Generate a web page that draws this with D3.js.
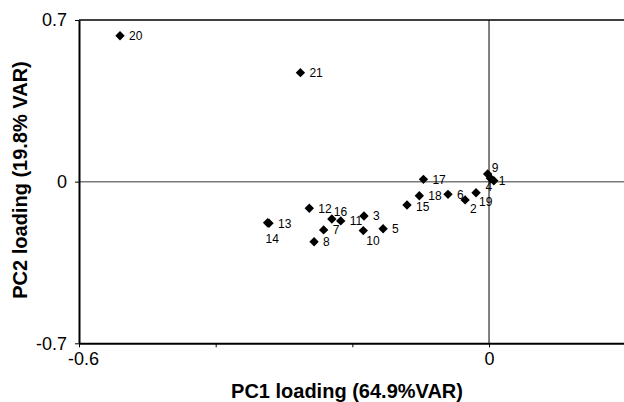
<!DOCTYPE html>
<html>
<head>
<meta charset="utf-8">
<script src="https://cdn.jsdelivr.net/npm/d3@7"></script>
<style>
	html, body { margin: 0; padding: 0; background: #fff; }
	svg { display: block; font-family: Arial, "Liberation Sans", sans-serif; }
</style>
</head>
<body>
<svg id="svg" width="624" height="402"></svg>
<script>
// Sample ids and their loadings on the first two components
var sampleIds = ['1', '2', '3', '4', '5', '6', '7', '8', '9', '10', '11',
	'12', '13', '14', '15', '16', '17', '18', '19', '20', '21'];

var pc1Loadings = [0.007, -0.035, -0.183, 0.002, -0.155, -0.060, -0.242,
	-0.256, -0.002, -0.184, -0.217, -0.263, -0.322, -0.324, -0.120, -0.230,
	-0.096, -0.102, -0.019, -0.540, -0.276];

var pc2Loadings = [0.004, -0.079, -0.149, 0.015, -0.204, -0.055, -0.209,
	-0.260, 0.033, -0.212, -0.170, -0.115, -0.180, -0.178, -0.101, -0.162,
	0.010, -0.061, -0.048, 0.632, 0.472];

var xTicks = [-0.6, -0.4, -0.2, 0, 0.2];
var xTickLabels = ['-0.6', '', '', '0', ''];
var yTicks = [-0.7, 0, 0.7];
var yTickLabels = ['-0.7', '0', '0.7'];

var xTitle = 'PC1 loading (64.9%VAR)';
var yTitle = 'PC2 loading (19.8% VAR)';

// labels that don't sit to the right of their marker (px offsets)
var labelNudge = {
	'1': [5, 0], '2': [5, 9], '4': [-5, 8], '9': [4, -6], '10': [3, 10],
	'14': [-2, 16], '15': [9, 2], '16': [2, -7], '19': [3, 9]
};

var svg = d3.select('#svg'),
	plotLeft = 79, plotRight = 625.7, plotTop = 20, plotBottom = 343.3;

var x = d3.scaleLinear().domain([-0.6, 0.2]).range([plotLeft, plotRight]),
	y = d3.scaleLinear().domain([-0.7, 0.7]).range([plotBottom, plotTop]);

var points = sampleIds.map(function(id, i){
	return { id: id, pc1: pc1Loadings[i], pc2: pc2Loadings[i] };
});

// zero lines
svg.append('line')
	.attr('x1', plotLeft).attr('x2', 624)
	.attr('y1', y(0)).attr('y2', y(0))
	.style('stroke', '#7a7a7a').style('stroke-width', 1.5);

svg.append('line')
	.attr('x1', x(0)).attr('x2', x(0))
	.attr('y1', plotTop).attr('y2', plotBottom)
	.style('stroke', '#000').style('stroke-width', 1);

// top frame line
svg.append('line')
	.attr('x1', plotLeft).attr('x2', 624)
	.attr('y1', plotTop).attr('y2', plotTop)
	.style('stroke', '#000').style('stroke-width', 1.6);

var xAxis = svg.append('g')
	.attr('transform', 'translate(0,' + plotBottom + ')')
	.call(d3.axisBottom(x)
		.tickValues(xTicks)
		.tickSize(4)
		.tickSizeOuter(0)
		.tickPadding(5)
		.tickFormat(function(d, i){ return xTickLabels[i]; }));

var yAxis = svg.append('g')
	.attr('transform', 'translate(' + plotLeft + ',0)')
	.call(d3.axisLeft(y)
		.tickValues(yTicks)
		.tickSize(4)
		.tickSizeOuter(0)
		.tickPadding(8)
		.tickFormat(function(d, i){ return yTickLabels[i]; }));

[xAxis, yAxis].forEach(function(axis){
	axis.select('.domain').style('stroke', '#000').style('stroke-width', 2);
	axis.selectAll('.tick line').style('stroke', '#000').style('stroke-width', 1);
	axis.selectAll('.tick text')
		.style('font-family', 'Arial, "Liberation Sans", sans-serif')
		.style('font-size', '18px')
		.style('fill', '#000');
});

xAxis.selectAll('.tick text').attr('dx', function(d){ return d < 0 ? 4 : 0; });

// markers
var diamond = d3.symbol().type(d3.symbolSquare).size(44);

svg.append('g')
	.selectAll('path')
	.data(points)
	.enter()
	.append('path')
	.attr('d', diamond)
	.attr('transform', function(d){
		return 'translate(' + x(d.pc1) + ',' + y(d.pc2) + ') rotate(45)';
	})
	.style('fill', '#000');

svg.append('g')
	.selectAll('text')
	.data(points)
	.enter()
	.append('text')
	.attr('x', function(d){ return x(d.pc1) + (labelNudge[d.id] || [9, 0])[0]; })
	.attr('y', function(d){ return y(d.pc2) + (labelNudge[d.id] || [9, 0])[1]; })
	.attr('dy', '0.36em')
	.style('font-size', '12px')
	.style('fill', '#000')
	.text(function(d){ return d.id; });

// axis titles
svg.append('text')
	.attr('x', 347)
	.attr('y', 398)
	.attr('text-anchor', 'middle')
	.style('font-size', '20px')
	.style('font-weight', 'bold')
	.text(xTitle);

svg.append('text')
	.attr('transform', 'translate(27,180) rotate(-90)')
	.attr('text-anchor', 'middle')
	.style('font-size', '20px')
	.style('font-weight', 'bold')
	.text(yTitle);
</script>
</body>
</html>
